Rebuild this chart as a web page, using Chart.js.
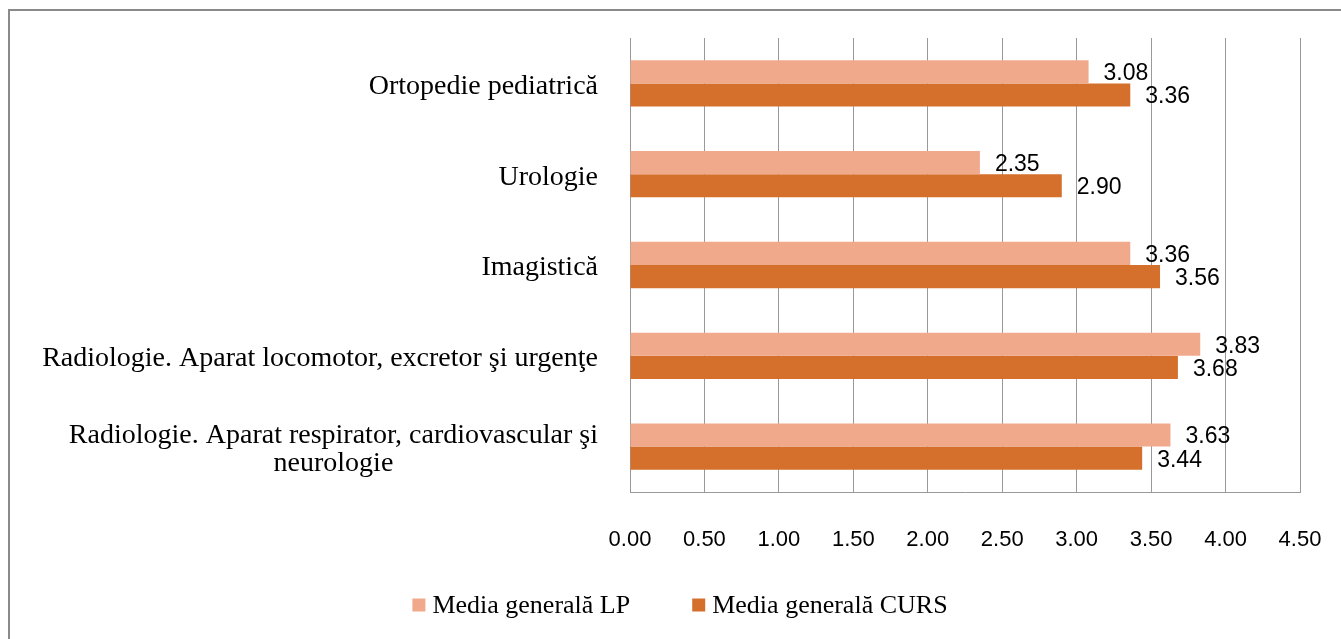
<!DOCTYPE html>
<html>
<head>
<meta charset="utf-8">
<script src="https://cdn.jsdelivr.net/npm/chart.js@4"></script>
<style>
  html, body { margin: 0; padding: 0; background: #fff; }
  #wrap { position: relative; width: 1341px; height: 639px; overflow: hidden; }
  #frame { position: absolute; left: 8px; top: 9px; width: 1400px; height: 700px;
           border-left: 2px solid #8a8a8a; border-top: 2px solid #8a8a8a; }
  canvas { position: absolute; left: 0; top: 0; }
</style>
</head>
<body>
<div id="wrap">
  <div id="frame"></div>
  <canvas id="c" width="1341" height="639"></canvas>
</div>
<script>
const categories = [
  "Ortopedie pediatrică",
  "Urologie",
  "Imagistică",
  "Radiologie. Aparat locomotor, excretor şi urgenţe",
  ["Radiologie. Aparat respirator, cardiovascular şi", "neurologie"]
];
const seriesNames = ["Media generală LP", "Media generală CURS"];
const valuesLP = [3.08, 2.35, 3.36, 3.83, 3.63];
const valuesCURS = [3.36, 2.90, 3.56, 3.68, 3.44];
const xTicks = [0, 0.5, 1, 1.5, 2, 2.5, 3, 3.5, 4, 4.5];

const serif = "'Liberation Serif', serif";
const sans = "'Liberation Sans', sans-serif";

const textPlugin = {
  id: 'textPlugin',
  afterDraw(chart) {
    const ctx = chart.ctx;
    ctx.save();
    // value labels
    ctx.font = "23px " + sans;
    ctx.fillStyle = "#000";
    ctx.textAlign = "left";
    ctx.textBaseline = "middle";
    chart.data.datasets.forEach((ds, di) => {
      const meta = chart.getDatasetMeta(di);
      meta.data.forEach((bar, i) => {
        ctx.fillText(ds.data[i].toFixed(2), bar.x + 15, bar.y + 2);
      });
    });
    // category labels
    const yScale = chart.scales.y;
    const right = chart.chartArea.left - 32;
    ctx.font = "28px " + serif;
    chart.data.labels.forEach((lab, i) => {
      const y = yScale.getPixelForValue(i) + 3;
      const lines = Array.isArray(lab) ? lab : [lab];
      const lh = 28;
      const widths = lines.map(l => ctx.measureText(l).width);
      const maxW = Math.max(...widths);
      const cx = right - maxW / 2;
      lines.forEach((l, k) => {
        const ly = y + (k - (lines.length - 1) / 2) * lh;
        if (lines.length === 1) {
          ctx.textAlign = "right";
          ctx.fillText(l, right, ly);
        } else {
          ctx.textAlign = "center";
          ctx.fillText(l, cx, ly);
        }
      });
    });
    // legend
    ctx.font = "26px " + serif;
    ctx.textAlign = "left";
    const items = chart.data.datasets.map(ds => ({ text: ds.label, color: ds.backgroundColor, w: ctx.measureText(ds.label).width }));
    const box = 13, gap = 7, itemGap = 62;
    let total = 0;
    items.forEach((it, k) => { total += box + gap + it.w + (k ? itemGap : 0); });
    let x = 680 - total / 2;
    const ly = 605;
    items.forEach((it, k) => {
      if (k) x += itemGap;
      ctx.fillStyle = it.color;
      ctx.fillRect(x, ly - box / 2, box, box);
      x += box + gap;
      ctx.fillStyle = "#000";
      ctx.fillText(it.text, x, ly + 1);
      x += it.w;
    });
    ctx.restore();
  }
};

new Chart(document.getElementById('c'), {
  type: 'bar',
  data: {
    labels: categories,
    datasets: [
      { label: seriesNames[0], data: valuesLP, backgroundColor: '#F1A98B' },
      { label: seriesNames[1], data: valuesCURS, backgroundColor: '#D56F2C' }
    ]
  },
  options: {
    indexAxis: 'y',
    responsive: false,
    animation: false,
    layout: { padding: { left: 0, right: 41, top: 38, bottom: 77 } },
    datasets: { bar: { barPercentage: 1.0, categoryPercentage: 0.51 } },
    scales: {
      x: {
        min: 0, max: 4.5,
        afterBuildTicks(scale) { scale.ticks = xTicks.map(v => ({ value: v })); },
        afterFit(scale) { scale.height = 70; scale.paddingLeft = 0; scale.paddingRight = 0; },
        ticks: {
          callback: v => Number(v).toFixed(2),
          font: { family: sans, size: 22 },
          color: '#000',
          padding: 35,
          maxRotation: 0
        },
        grid: { color: '#999', lineWidth: 1, drawTicks: false },
        border: { color: '#999' }
      },
      y: {
        afterFit(scale) { scale.width = 630; },
        ticks: { display: false },
        grid: { display: false, drawTicks: false },
        border: { color: '#999' }
      }
    },
    plugins: {
      legend: { display: false },
      tooltip: { enabled: false }
    }
  },
  plugins: [textPlugin]
});
</script>
</body>
</html>
